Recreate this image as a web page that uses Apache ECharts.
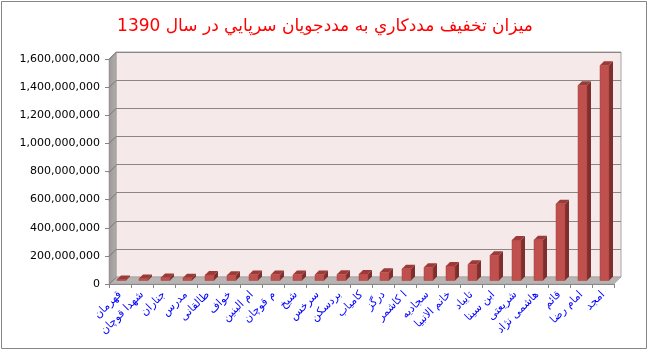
<!DOCTYPE html>
<html>
<head>
<meta charset="utf-8">
<script src="https://cdn.jsdelivr.net/npm/echarts@6/dist/echarts.min.js"></script>
<style>html,body{margin:0;padding:0;background:#fff}#c{width:650px;height:353px}</style>
</head>
<body>
<div id="c"></div>
<script>
const titleText = 'ميزان تخفيف مددكاري به مددجويان سرپايي در سال 1390';
const categories = ['قهرمان','شهدا قوچان','جناران','مدرس','طالقانی','خواف','ام البنین','م قوچان','شیخ','سرخس','بردسکن','کامیاب','درگز','ا کاشمر','سجادیه','خانم الانبیا','تایباد','ابن سینا','شریعتی','هاشمی نژاد','قائم','امام رضا','امجد'];
const values = [8e6,15e6,22e6,20e6,40e6,38e6,42e6,42e6,42e6,42e6,44e6,46e6,58e6,84e6,94e6,103e6,115e6,180e6,288e6,290e6,545e6,1388e6,1530e6];
const yMin = 0, yMax = 1600000000, yStep = 200000000;
const yTicks = [0,200000000,400000000,600000000,800000000,1000000000,1200000000,1400000000,1600000000];

const D = 7;          // wall depth
const FONT = 'DejaVu Sans';

const chart = echarts.init(document.getElementById('c'), null, {renderer:'canvas'});

function fmt(v){ return String(v).replace(/\B(?=(\d{3})+(?!\d))/g, ','); }

const wallsSeries = {
  type:'custom', xAxisIndex:1, yAxisIndex:1, z:1, silent:true,
  data:[0],
  renderItem(params, api){
    const cs = params.coordSys;
    const x0 = cs.x, y0 = cs.y, w = cs.width, h = cs.height;
    const children = [
      {type:'polygon', shape:{points:[[x0,y0],[x0+D,y0-D],[x0+D,y0+h-D],[x0,y0+h]]},
        style:{fill:new echarts.graphic.LinearGradient(0,0,1,0,[{offset:0,color:'#9c9696'},{offset:1,color:'#b3aeae'}]), stroke:'#8c8888', lineWidth:0.5}},
      {type:'polygon', shape:{points:[[x0,y0+h],[x0+D,y0+h-D],[x0+w+D,y0+h-D],[x0+w,y0+h]]},
        style:{fill:'#b8b4b4', stroke:'#9a9696', lineWidth:0.5}}
    ];
    yTicks.forEach(v=>{
      const p = api.coord([0, v]);
      children.push({type:'line', shape:{x1:x0, y1:Math.round(p[1])+0.5, x2:x0+D, y2:Math.round(p[1])+0.5-D}, style:{stroke:'#7a7676', lineWidth:1}});
    });
    return {type:'group', children};
  }
};

const barSeries = {
  type:'custom', xAxisIndex:1, yAxisIndex:1, z:5,
  data: values.map((v,i)=>[i,v]),
  renderItem(params, api){
    const p = api.coord([api.value(0), api.value(1)]);
    const b = api.coord([api.value(0), 0]);
    const off = 3.5, d = 4, bw = 9;
    const xl = Math.round(p[0] - bw/2 + 1.5), xr = xl + bw;
    const yt = p[1] - off, yb = b[1] - off;
    return {type:'group', children:[
      {type:'polygon', shape:{points:[[xr,yt],[xr+d,yt-d],[xr+d,yb-d],[xr,yb]]}, style:{fill:'#7e2f2d'}},
      {type:'polygon', shape:{points:[[xl,yt],[xl+d,yt-d],[xr+d,yt-d],[xr,yt]]}, style:{fill:'#9b3a38'}},
      {type:'rect', shape:{x:xl, y:yt, width:bw, height:Math.max(yb-yt,0)}, style:{fill:'#c0504d', stroke:'#a7403d', lineWidth:0.5}}
    ]};
  }
};

chart.setOption({
  animation:false,
  backgroundColor:'#ffffff',
  title:{text:titleText, left:'center', top:13, textStyle:{color:'#ff0000', fontSize:17, fontWeight:'normal', fontFamily:FONT}},
  grid:[
    {left:109+D, top:59-D, width:505, height:225, show:true, backgroundColor:'#f5e9e9', borderColor:'#a8a4a4', borderWidth:1, z:0},
    {left:109, top:59, width:505, height:225}
  ],
  xAxis:[
    {gridIndex:0, type:'category', data:categories, show:false},
    {gridIndex:1, type:'category', data:categories, boundaryGap:true,
      axisLine:{show:true, lineStyle:{color:'#868686'}},
      axisTick:{show:true, interval:0, length:4, lineStyle:{color:'#868686'}},
      axisLabel:{interval:0, rotate:45, margin:9, color:'#0000ff', fontSize:11, fontFamily:FONT},
      splitLine:{show:false}}
  ],
  yAxis:[
    {gridIndex:0, type:'value', min:yMin, max:yMax, interval:yStep,
      axisLabel:{show:false}, axisLine:{show:false}, axisTick:{show:false},
      splitLine:{show:true, lineStyle:{color:'#8a8686', width:1}}},
    {gridIndex:1, type:'value', min:yMin, max:yMax, interval:yStep,
      axisLine:{show:true, lineStyle:{color:'#868686'}},
      axisTick:{show:true, length:4, lineStyle:{color:'#868686'}},
      axisLabel:{margin:9, color:'#000000', fontSize:11, fontFamily:FONT, formatter:fmt},
      splitLine:{show:false}}
  ],
  graphic:[{type:'rect', shape:{x:1.5, y:1.5, width:645, height:347}, style:{fill:'none', stroke:'#868686', lineWidth:1}, z:100}],
  series:[wallsSeries, barSeries]
});
</script>
</body>
</html>
